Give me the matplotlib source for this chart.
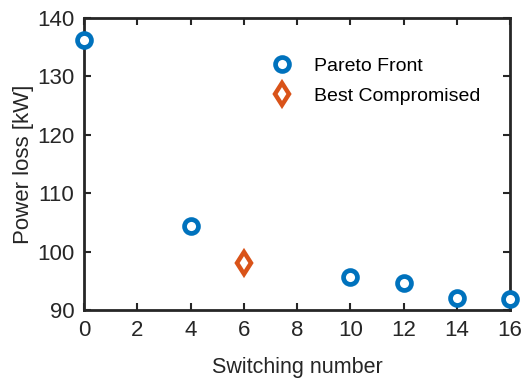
import matplotlib
matplotlib.use("Agg")
import matplotlib.pyplot as plt

# Pareto front data
pareto_x = [0, 4, 10, 12, 14, 16]
pareto_y = [136.2, 104.4, 95.7, 94.7, 92.1, 91.8]

# best compromised solution
best_x = [6]
best_y = [98.1]

xticks = [0, 2, 4, 6, 8, 10, 12, 14, 16]
yticks = [90, 100, 110, 120, 130, 140]

plt.rcParams['font.family'] = ['Liberation Sans', 'DejaVu Sans']

fig = plt.figure(figsize=(5.32, 3.8), dpi=100)
ax = fig.add_axes([84 / 532, 1 - 310 / 380, (510 - 84) / 532, (310 - 18) / 380])

ax.plot(pareto_x, pareto_y, 'o', ms=10, mew=3.4, mfc='white', mec='#0072BD',
        label='Pareto Front', clip_on=False, zorder=3)
ax.plot(best_x, best_y, 'd', ms=11.5, mew=3.2, mfc='white', mec='#D95319',
        label='Best Compromised', clip_on=False, zorder=3)

ax.set_xlim(0, 16)
ax.set_ylim(90, 140)
ax.set_xticks(xticks)
ax.set_yticks(yticks)
ax.tick_params(direction='in', top=True, right=True, length=5, width=1.5,
               labelsize=16, colors='#262626', pad=7)
for s in ax.spines.values():
    s.set_linewidth(2)
    s.set_color('#262626')

ax.set_xlabel('Switching number', fontsize=15.5, color='#262626', labelpad=12)
ax.set_ylabel('Power loss [kW]', fontsize=16, color='#262626', labelpad=2)

ax.legend(loc='upper left', bbox_to_anchor=(0.39, 0.925), frameon=False,
          fontsize=14, handletextpad=0.9, labelspacing=0.65, handlelength=1.5)

fig.savefig('out.png', dpi=100)
